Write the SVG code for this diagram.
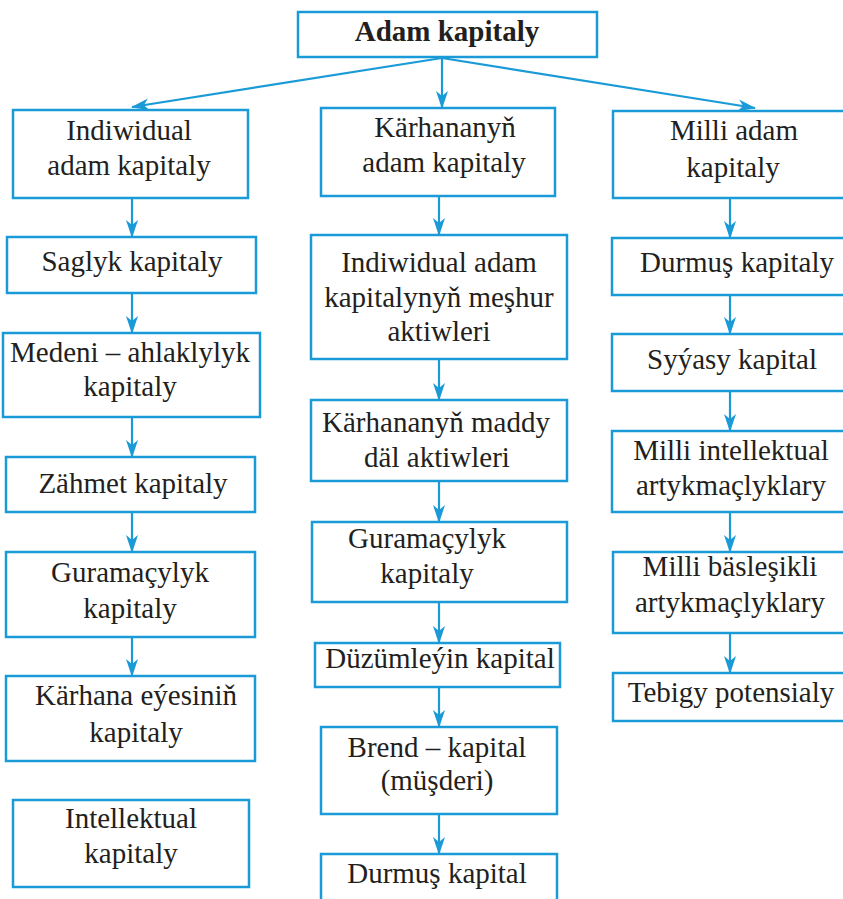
<svg xmlns="http://www.w3.org/2000/svg" width="843" height="899" viewBox="0 0 843 899">
<style>
.box{fill:#fff;stroke:#1a9ad7;stroke-width:2.5}
.t{font-family:'Liberation Serif',Tinos,'Times New Roman','Nimbus Roman','DejaVu Serif',serif;font-size:29px;fill:#231f20;text-anchor:middle}
.b{font-weight:bold}
.c{stroke:#1a9ad7;stroke-width:2.2;fill:none;marker-end:url(#ah)}
</style>
<defs>
<marker id="ah" viewBox="0 0 18 12" refX="17" refY="6" markerWidth="18" markerHeight="12" markerUnits="userSpaceOnUse" orient="auto">
<path d="M0,0 L18,6 L0,12 L5,6 Z" fill="#1a9ad7"/>
</marker>
</defs>
<rect width="843" height="899" fill="#fff"/>
<g id="connectors">
<line class="c" x1="442" y1="58" x2="132" y2="107"/>
<line class="c" x1="442" y1="58" x2="442" y2="108"/>
<line class="c" x1="442" y1="58" x2="755" y2="108"/>
<line class="c" x1="132" y1="198" x2="132" y2="237"/>
<line class="c" x1="132" y1="293" x2="132" y2="333"/>
<line class="c" x1="132" y1="417" x2="132" y2="457"/>
<line class="c" x1="132" y1="512" x2="132" y2="552"/>
<line class="c" x1="132" y1="637" x2="132" y2="676"/>
<line class="c" x1="439" y1="196" x2="439" y2="235"/>
<line class="c" x1="439" y1="359" x2="439" y2="400"/>
<line class="c" x1="439" y1="481" x2="439" y2="522"/>
<line class="c" x1="439" y1="602" x2="439" y2="643"/>
<line class="c" x1="439" y1="687" x2="439" y2="727"/>
<line class="c" x1="439" y1="814" x2="439" y2="854"/>
<line class="c" x1="730" y1="198" x2="730" y2="238"/>
<line class="c" x1="730" y1="295" x2="730" y2="334"/>
<line class="c" x1="730" y1="391" x2="730" y2="431"/>
<line class="c" x1="730" y1="512" x2="730" y2="552"/>
<line class="c" x1="730" y1="633" x2="730" y2="673"/>
</g>
<g id="n-top"><rect class="box" x="298" y="12" width="299" height="45"/><text class="t b" x="447" y="41">Adam kapitaly</text></g>
<g id="n-individual"><rect class="box" x="13" y="110" width="235" height="88"/><text class="t" x="129" y="140">Indiwidual</text><text class="t" x="129" y="175">adam kapitaly</text></g>
<g id="n-karhana"><rect class="box" x="321" y="108" width="234" height="88"/><text class="t" x="445" y="137">Kärhananyň</text><text class="t" x="444" y="172">adam kapitaly</text></g>
<g id="n-milli"><rect class="box" x="613" y="111" width="235" height="87"/><text class="t" x="734" y="140">Milli adam</text><text class="t" x="733" y="177">kapitaly</text></g>
<g id="n-saglyk"><rect class="box" x="7" y="237" width="249" height="56"/><text class="t" x="132" y="271">Saglyk kapitaly</text></g>
<g id="n-medeni"><rect class="box" x="3" y="333" width="257" height="84"/><text class="t" x="130" y="362">Medeni – ahlaklylyk</text><text class="t" x="130" y="396">kapitaly</text></g>
<g id="n-zahmet"><rect class="box" x="6" y="457" width="249" height="55"/><text class="t" x="133" y="493">Zähmet kapitaly</text></g>
<g id="n-guramacylyk1"><rect class="box" x="6" y="552" width="249" height="85"/><text class="t" x="130" y="582">Guramaçylyk</text><text class="t" x="130" y="618">kapitaly</text></g>
<g id="n-eyesi"><rect class="box" x="6" y="676" width="249" height="85"/><text class="t" x="136" y="705">Kärhana eýesiniň</text><text class="t" x="136" y="742">kapitaly</text></g>
<g id="n-intellektual"><rect class="box" x="13" y="800" width="236" height="87"/><text class="t" x="131" y="828">Intellektual</text><text class="t" x="131" y="863">kapitaly</text></g>
<g id="n-meshur"><rect class="box" x="311" y="235" width="256" height="124"/><text class="t" x="439" y="272">Indiwidual adam</text><text class="t" x="439" y="307">kapitalynyň meşhur</text><text class="t" x="439" y="341">aktiwleri</text></g>
<g id="n-maddy"><rect class="box" x="311" y="400" width="256" height="81"/><text class="t" x="436" y="432">Kärhananyň maddy</text><text class="t" x="437" y="467">däl aktiwleri</text></g>
<g id="n-guramacylyk2"><rect class="box" x="312" y="522" width="255" height="80"/><text class="t" x="427" y="548">Guramaçylyk</text><text class="t" x="427" y="583">kapitaly</text></g>
<g id="n-duzumleyin"><rect class="box" x="315" y="643" width="245" height="44"/><text class="t" x="440" y="668">Düzümleýin kapital</text></g>
<g id="n-brend"><rect class="box" x="321" y="727" width="236" height="87"/><text class="t" x="437" y="757">Brend – kapital</text><text class="t" x="437" y="790">(müşderi)</text></g>
<g id="n-durmus2"><rect class="box" x="321" y="854" width="236" height="60"/><text class="t" x="437" y="883">Durmuş kapital</text></g>
<g id="n-durmus1"><rect class="box" x="612" y="238" width="236" height="57"/><text class="t" x="737" y="272">Durmuş kapitaly</text></g>
<g id="n-syyasy"><rect class="box" x="612" y="334" width="236" height="57"/><text class="t" x="732" y="369">Syýasy kapital</text></g>
<g id="n-milli-int"><rect class="box" x="612" y="431" width="236" height="81"/><text class="t" x="731" y="460">Milli intellektual</text><text class="t" x="731" y="495">artykmaçlyklary</text></g>
<g id="n-milli-bas"><rect class="box" x="613" y="552" width="235" height="81"/><text class="t" x="730" y="576">Milli bäsleşikli</text><text class="t" x="730" y="612">artykmaçlyklary</text></g>
<g id="n-tebigy"><rect class="box" x="613" y="673" width="235" height="48"/><text class="t" x="731" y="702">Tebigy potensialy</text></g>
</svg>
